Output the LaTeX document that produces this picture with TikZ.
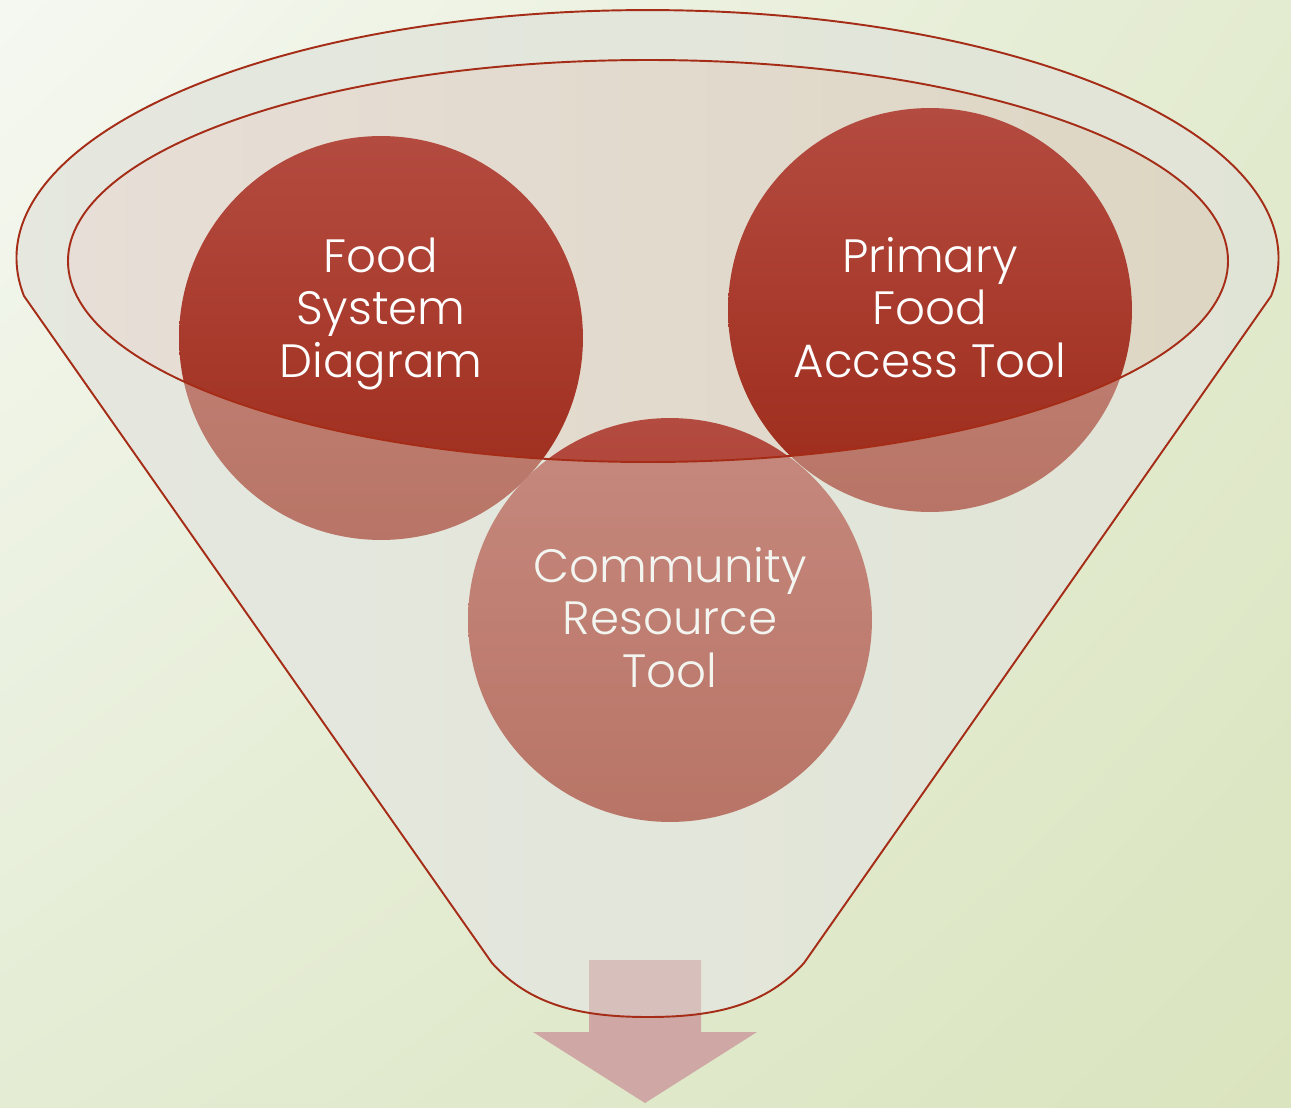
\documentclass[tikz,border=0pt]{standalone}
\usepackage{fontspec}
\setmainfont{Poppins Light}
\usetikzlibrary{shadings}

\definecolor{bgTL}{HTML}{F5F8F1}
\definecolor{bgTR}{HTML}{E3EBD0}
\definecolor{bgBL}{HTML}{E4ECD4}
\definecolor{bgBR}{HTML}{DAE4BE}
\definecolor{funL}{HTML}{E8EAE3}
\definecolor{funR}{HTML}{DFE3D1}
\definecolor{funC}{HTML}{E3E6DC}
\definecolor{rimL}{HTML}{E7DED7}
\definecolor{rimR}{HTML}{DDD6C3}
\definecolor{redTop}{HTML}{B44B40}
\definecolor{redBot}{HTML}{9C2A19}
\definecolor{edge}{HTML}{A52D17}
\definecolor{arrowC}{HTML}{CFA8A6}

\tikzset{
  bubble/.style={circle,inner sep=0pt,minimum size=8.08cm,top color=redTop,bottom color=redBot},
  caption/.style={align=center,text=white,font=\fontsize{26.6}{29.7}\selectfont,inner sep=0pt,anchor=base},
  rim/.style={draw=edge,line width=1.1pt}
}

\begin{document}
\begin{tikzpicture}[x=0.02cm,y=-0.02cm]
\useasboundingbox (0,0) rectangle (1291,1108);
\shade[upper left=bgTL,upper right=bgTR,lower left=bgBL,lower right=bgBR] (0,0) rectangle (1291,1108);

\def\funnel{(24,296) arc[start angle=171.2,end angle=368.8,x radius=631,y radius=248]
  -- (804,963) .. controls (766,1005) and (716,1017) .. (648,1017)
  .. controls (580,1017) and (530,1005) .. (492,963) -- cycle}
\def\mouth{(648,261) ellipse[x radius=580,y radius=201]}

% funnel body and its mouth
\shade[left color=funL,right color=funR] \funnel;
\shade[left color=rimL,right color=rimR] \mouth;

% outlet arrow
\fill[arrowC] (589,960) -- (701,960) -- (701,1032) -- (757,1032) -- (645,1103)
  -- (533,1032) -- (589,1032) -- cycle;

\node[bubble] (food) at (381,338) {};
\node[bubble] (primary) at (930,310) {};
\node[bubble] (community) at (670,620) {};

% base anchor sits on the last line
\node[caption] (foodtext) at (381,377) {Food\\System\\Diagram};
\node[caption] (primarytext) at (930,377) {Primary\\Food\\Access Tool};
\node[caption] (communitytext) at (670,687) {Community\\Resource\\Tool};

% front of the funnel
\fill[funC,fill opacity=0.4,even odd rule] \funnel \mouth;
\draw[rim] \funnel;
\draw[rim] \mouth;
\end{tikzpicture}
\end{document}
